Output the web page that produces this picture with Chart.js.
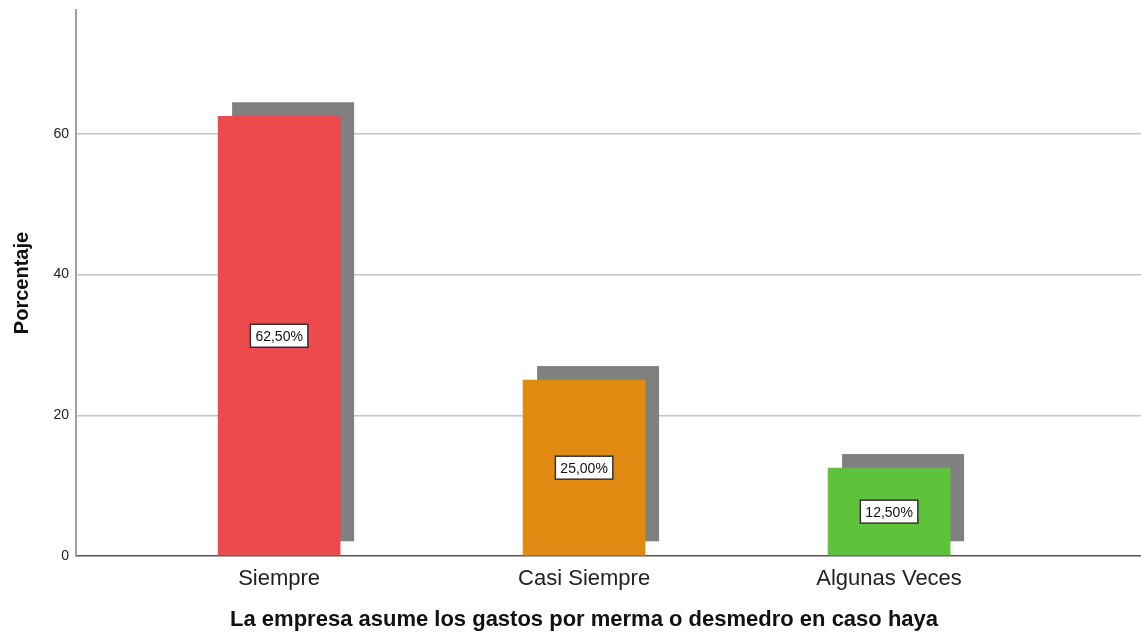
<!DOCTYPE html>
<html lang="es">
<head>
<meta charset="UTF-8">
<script src="https://cdn.jsdelivr.net/npm/chart.js@4.4.1/dist/chart.umd.min.js"></script>
<title>Porcentaje</title>
<style>
  html, body { margin: 0; padding: 0; background: #fff; }
  #wrap { width: 1141px; height: 637px; position: relative; }
</style>
</head>
<body>
<div id="wrap"><canvas id="graph"></canvas></div>
<script>
const categories = ['Siempre', 'Casi Siempre', 'Algunas Veces'];
const percentages = [62.5, 25, 12.5];
const yTickValues = [0, 20, 40, 60];
const barColors = ['#ec4a4d', '#e08a12', '#5ec23a'];

// grey drop shadow behind each bar, offset up and right
const shadowPlugin = {
  id: 'shadow',
  beforeDatasetsDraw(chart) {
    const ctx = chart.ctx;
    const meta = chart.getDatasetMeta(0);
    ctx.save();
    ctx.fillStyle = '#808080';
    meta.data.forEach(bar => {
      const w = bar.width;
      ctx.fillRect(bar.x - w / 2 + 14, bar.y - 14, w, bar.base - bar.y);
    });
    ctx.restore();
  }
};

// boxed percentage label in the middle of each bar
const boxLabels = {
  id: 'boxLabels',
  afterDatasetsDraw(chart) {
    const ctx = chart.ctx;
    const meta = chart.getDatasetMeta(0);
    ctx.save();
    ctx.font = '14px "Liberation Sans", Arial, sans-serif';
    ctx.textAlign = 'center';
    ctx.textBaseline = 'middle';
    meta.data.forEach((bar, i) => {
      const txt = percentages[i].toFixed(2).replace('.', ',') + '%';
      const cy = (bar.y + bar.base) / 2;
      const tw = ctx.measureText(txt).width;
      const bw = tw + 10, bh = 23;
      ctx.fillStyle = '#fff';
      ctx.fillRect(bar.x - bw / 2, cy - bh / 2, bw, bh);
      ctx.strokeStyle = '#333';
      ctx.lineWidth = 1.5;
      ctx.strokeRect(bar.x - bw / 2, cy - bh / 2, bw, bh);
      ctx.fillStyle = '#111';
      ctx.fillText(txt, bar.x, cy + 1);
    });
    ctx.restore();
  }
};

const ctx = document.getElementById('graph').getContext('2d');
new Chart(ctx, {
  type: 'bar',
  data: {
    datasets: [{
      data: percentages.map((v, i) => ({ x: i, y: v })),
      backgroundColor: barColors,
      borderWidth: 0,
      barThickness: 122
    }]
  },
  options: {
    responsive: true,
    maintainAspectRatio: false,
    animation: false,
    layout: { padding: { top: 10, right: 0, left: 0, bottom: 0 } },
    plugins: { legend: { display: false }, tooltip: { enabled: false } },
    scales: {
      x: {
        type: 'linear',
        offset: false,
        min: -0.666,
        max: 2.826,
        afterBuildTicks: s => { s.ticks = categories.map((c, i) => ({ value: i })); },
        afterFit: s => { s.height = 81; s.paddingLeft = 0; s.paddingRight = 0; },
        grid: { display: false, drawTicks: false, offset: false },
        border: { display: true, color: '#555', width: 1.5 },
        ticks: {
          autoSkip: false,
          maxRotation: 0,
          padding: 10,
          color: '#222',
          font: { family: '"Liberation Sans", Arial, sans-serif', size: 22 },
          callback: v => categories[v]
        },
        title: {
          display: true,
          // trailing spaces shift the centred title slightly left, as in the original
          text: 'La empresa asume los gastos por merma o desmedro en caso haya        ',
          color: '#111',
          font: { family: '"Liberation Sans", Arial, sans-serif', size: 22, weight: 'bold' },
          padding: { top: 0, bottom: 4 }
        }
      },
      y: {
        min: 0,
        max: 77.6,
        afterBuildTicks: s => { s.ticks = yTickValues.map(v => ({ value: v })); },
        afterFit: s => { s.width = 76; s.paddingTop = 0; s.paddingBottom = 0; },
        grid: {
          drawTicks: false,
          color: ctx => ctx.tick && ctx.tick.value === 0 ? 'rgba(0,0,0,0)' : '#c4c4c4',
          lineWidth: 1.5
        },
        border: { display: true, color: '#a0a0a0', width: 2 },
        ticks: {
          padding: 7,
          color: '#222',
          font: { family: '"Liberation Sans", Arial, sans-serif', size: 14 }
        },
        title: {
          display: true,
          text: 'Porcentaje',
          color: '#111',
          font: { family: '"Liberation Sans", Arial, sans-serif', size: 20, weight: 'bold' },
          padding: { top: 10, bottom: 0 }
        }
      }
    }
  },
  plugins: [shadowPlugin, boxLabels]
});
</script>
</body>
</html>
